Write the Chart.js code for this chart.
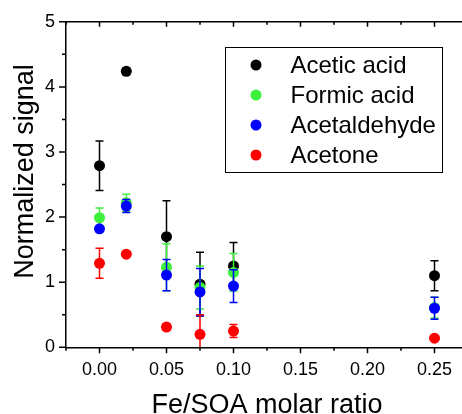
<!DOCTYPE html>
<html>
<head>
<meta charset="utf-8">
<script src="https://cdn.jsdelivr.net/npm/chart.js@4/dist/chart.umd.min.js"></script>
<style>
  html, body { margin: 0; padding: 0; background: #fff; overflow: hidden; }
  #chart { display: block; }
</style>
</head>
<body>
<canvas id="chart" width="480" height="414"></canvas>
<script>
// Fe/SOA molar ratio
const ratios = [0.00, 0.02, 0.05, 0.075, 0.10, 0.25];

// normalized signal + error bars
const aceticAcid = [2.79, 4.24, 1.70, 0.97, 1.25, 1.10];
const aceticErr = [0.38, 0.05, 0.55, 0.49, 0.36, 0.23];
const formicAcid = [1.99, 2.22, 1.23, 0.92, 1.15, 0.61];
const formicErr = [0.15, 0.13, 0.36, 0.33, 0.29, 0.16];
const acetaldehyde = [1.82, 2.17, 1.11, 0.85, 0.94, 0.60];
const acetaldehydeErr = [0.04, 0.10, 0.24, 0.36, 0.25, 0.17];
const acetone = [1.29, 1.43, 0.31, 0.20, 0.25, 0.14];
const acetoneErr = [0.23, 0.03, 0.05, 0.30, 0.10, 0.03];

const seriesNames = ['Acetic acid', 'Formic acid', 'Acetaldehyde', 'Acetone'];
const seriesColors = ['#000000', '#3cf03c', '#0000ff', '#ff0000'];
const seriesValues = [aceticAcid, formicAcid, acetaldehyde, acetone];
const seriesErrors = [aceticErr, formicErr, acetaldehydeErr, acetoneErr];

const FONT = '"Liberation Sans", Arial, sans-serif';

const isMajor = (v, step) => Math.abs(Math.round(v / step) * step - v) < 1e-9;

// error bars, drawn just under each dataset's own points
const errorBars = {
    id: 'errorBars',
    beforeDatasetDraw(chart, args) {
        const ds = chart.data.datasets[args.index];
        const y = chart.scales.y;
        const area = chart.chartArea;
        const ctx = chart.ctx;
        ctx.save();
        ctx.beginPath();
        ctx.rect(area.left, area.top, area.right - area.left, area.bottom - area.top);
        ctx.clip();
        ctx.strokeStyle = ds.backgroundColor;
        ctx.lineWidth = 1.5;
        args.meta.data.forEach((pt, j) => {
            const v = ds.data[j].y, e = ds.errors[j];
            const top = y.getPixelForValue(v + e);
            const bot = y.getPixelForValue(v - e);
            ctx.beginPath();
            ctx.moveTo(pt.x, top); ctx.lineTo(pt.x, bot);
            ctx.moveTo(pt.x - 4, top); ctx.lineTo(pt.x + 4, top);
            ctx.moveTo(pt.x - 4, bot); ctx.lineTo(pt.x + 4, bot);
            ctx.stroke();
        });
        ctx.restore();
    }
};

// tick marks, top frame line, axis titles and the boxed legend
const frame = {
    id: 'frame',
    afterDraw(chart) {
        const ctx = chart.ctx;
        const x = chart.scales.x, y = chart.scales.y;
        const a = chart.chartArea;
        ctx.save();
        ctx.strokeStyle = '#000';
        ctx.lineWidth = 1.5;
        ctx.beginPath();
        ctx.moveTo(a.left, a.top); ctx.lineTo(a.right, a.top);
        x.ticks.forEach(t => {
            const px = x.getPixelForValue(t.value);
            const major = isMajor(t.value, 0.05);
            ctx.moveTo(px, a.bottom); ctx.lineTo(px, a.bottom + (major ? 6 : 3.5));
            ctx.moveTo(px, a.top); ctx.lineTo(px, a.top + (major ? 5 : 3));
        });
        y.ticks.forEach(t => {
            const py = y.getPixelForValue(t.value);
            const major = isMajor(t.value, 1);
            ctx.moveTo(a.left - (major ? 7 : 4), py); ctx.lineTo(a.left, py);
        });
        ctx.stroke();

        // axis titles
        ctx.fillStyle = '#000';
        ctx.font = '27px ' + FONT;
        ctx.textAlign = 'center';
        ctx.textBaseline = 'alphabetic';
        ctx.fillText('Fe/SOA molar ratio', (a.left + a.right) / 2, 413);
        ctx.save();
        ctx.translate(32.5, 171.5);
        ctx.rotate(-Math.PI / 2);
        ctx.fillText('Normalized signal', 0, 0);
        ctx.restore();

        // legend
        ctx.lineWidth = 1;
        ctx.strokeRect(225.5, 47.5, 217, 125);
        ctx.font = '24px ' + FONT;
        ctx.textAlign = 'left';
        chart.data.datasets.forEach((ds, i) => {
            const cy = 65 + i * 30;
            ctx.fillStyle = ds.backgroundColor;
            ctx.beginPath();
            ctx.arc(256, cy, 5.5, 0, Math.PI * 2);
            ctx.fill();
            ctx.fillStyle = '#000';
            ctx.fillText(ds.label, 290.5, cy + 8.3);
        });
        ctx.restore();
    }
};

const datasets = seriesNames.map((name, i) => ({
    label: name,
    data: ratios.map((r, j) => ({ x: r, y: seriesValues[i][j] })),
    errors: seriesErrors[i],
    backgroundColor: seriesColors[i],
    borderColor: seriesColors[i],
    borderWidth: 0,
    pointRadius: 5.5,
    pointHoverRadius: 5.5,
    order: seriesNames.length - i,
    clip: false
}));

new Chart(document.getElementById('chart'), {
    type: 'scatter',
    data: { datasets },
    plugins: [errorBars, frame],
    options: {
        responsive: false,
        animation: false,
        events: [],
        layout: { padding: { top: 20.7, right: 8, left: 0, bottom: 0 } },
        plugins: { legend: { display: false }, tooltip: { enabled: false } },
        scales: {
            x: {
                type: 'linear',
                min: -0.025,
                max: 0.275,
                afterFit: s => { s.height = 66.7; },
                grid: { display: false, drawTicks: false },
                border: { display: true, color: '#000', width: 1.5 },
                ticks: {
                    stepSize: 0.025,
                    autoSkip: false,
                    maxRotation: 0,
                    padding: 12,
                    color: '#000',
                    font: { family: FONT, size: 18 },
                    callback: v => isMajor(v, 0.05) ? v.toFixed(2) : ''
                }
            },
            y: {
                min: 0,
                max: 5,
                afterFit: s => { s.width = 66; },
                grid: { display: false, drawTicks: false },
                border: { display: true, color: '#000', width: 1.5 },
                ticks: {
                    stepSize: 0.5,
                    padding: 11,
                    color: '#000',
                    font: { family: FONT, size: 18 },
                    callback: v => isMajor(v, 1) ? String(v) : ''
                }
            }
        }
    }
});
</script>
</body>
</html>
